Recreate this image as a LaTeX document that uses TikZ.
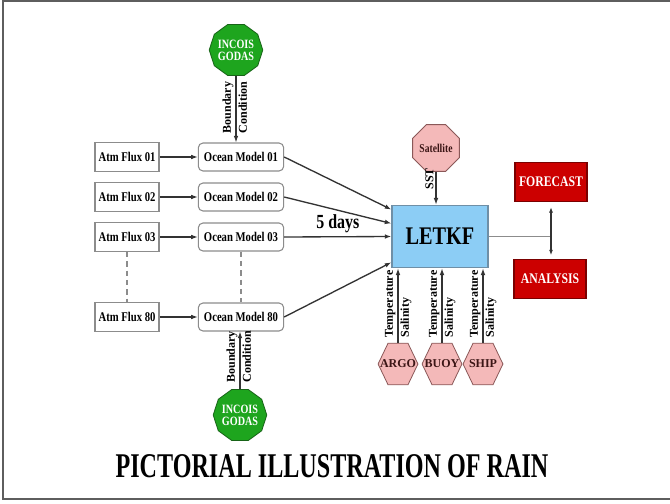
\documentclass[tikz,border=0pt]{standalone}
\usepackage{fontspec}
\setmainfont{Liberation Serif}[FakeStretch=0.8]
\newfontfamily\rotfont{Liberation Serif}
\usetikzlibrary{arrows.meta,shapes.geometric}
\definecolor{frameG}{HTML}{5E5E5E}
\definecolor{boxG}{HTML}{8C8C8C}
\definecolor{lineG}{HTML}{333333}
\definecolor{letkfB}{HTML}{8CCDF5}
\definecolor{letkfEdge}{HTML}{6F8FA6}
\definecolor{srcG}{HTML}{1EA51E}
\definecolor{srcGedge}{HTML}{176317}
\definecolor{obsP}{HTML}{F4B9B9}
\definecolor{obsPedge}{HTML}{8A5858}
\definecolor{obsText}{HTML}{3C1616}
\definecolor{outR}{HTML}{CC0000}
\definecolor{outRedge}{HTML}{7A0000}

\begin{document}
\begin{tikzpicture}[x=0.75pt, y=-0.75pt,
  flux/.style={draw=boxG, line width=0.8pt, fill=white, inner sep=1pt,
    minimum width=48pt, minimum height=21.5pt,
    font=\bfseries\fontsize{10}{11}\selectfont},
  model/.style={flux, rounded corners=3.5pt, minimum width=64pt, minimum height=21pt},
  godas/.style={regular polygon, regular polygon sides=10, minimum size=36pt,
    inner sep=0pt, fill=srcG, draw=srcGedge, line width=0.6pt, text=white,
    align=center, font=\bfseries\fontsize{9.5}{9}\selectfont},
  obs/.style={regular polygon, regular polygon sides=6, minimum size=36pt,
    inner sep=0pt, xscale=0.83, transform shape, fill=obsP, draw=obsPedge,
    line width=0.6pt},
  obslab/.style={text=obsText, font=\rotfont\bfseries\fontsize{9}{9}\selectfont},
  output/.style={draw=outRedge, fill=outR, line width=0.8pt, text=white,
    minimum width=54pt, minimum height=29pt, inner sep=1pt,
    font=\bfseries\fontsize{11}{12}\selectfont},
  arr/.style={-{Latex[length=5pt,width=3.5pt]}, draw=lineG, line width=0.8pt},
  bigarr/.style={arr, line width=1pt},
  sidelab/.style={rotate=90, inner sep=1.5pt, font=\rotfont\bfseries\fontsize{9}{9}\selectfont}]

  % page and frame
  \fill[white] (0,0) rectangle (670,503);
  \useasboundingbox (0,0) rectangle (670,503);
  \draw[frameG, line width=1.5pt] (670,1) -- (2.5,1) -- (2.5,499) -- (670,499);

  % ensemble rows: atmospheric forcing -> ocean model
  \foreach \n/\y in {01/157,02/197,03/237,80/317}{
    \node[flux] (flux\n) at (127,\y) {Atm Flux \n};
    \node[model] (model\n) at (241,\y) {Ocean Model \n};
    \draw[arr] (flux\n) -- (model\n);
  }
  \draw[boxG, line width=0.8pt, dash pattern=on 4pt off 3pt] (flux03) -- (flux80);
  \draw[boxG, line width=0.8pt, dash pattern=on 4pt off 3pt] (model03) -- (model80);

  % boundary condition sources
  \node[godas] (godasTop) at (236,50) {INCOIS\\GODAS};
  \node[godas] (godasBot) at (240,415) {INCOIS\\GODAS};
  \draw[arr] (godasTop.south) -- (godasTop.south |- model01.north)
    node[sidelab, pos=0.9, anchor=south west] {Boundary}
    node[sidelab, pos=0.9, anchor=north west] {Condition};
  \draw[arr] (godasBot.north) -- (godasBot.north |- model80.south)
    node[sidelab, pos=0.07, anchor=south west] {Boundary}
    node[sidelab, pos=0.07, anchor=north west] {Condition};

  % assimilation
  \node[draw=letkfEdge, fill=letkfB, line width=0.8pt, minimum width=72pt,
    minimum height=47pt, font=\bfseries\fontsize{19}{20}\selectfont]
    (letkf) at (440,236.5) {LETKF};
  \foreach \n/\a in {01/151,02/165,80/208}{
    \draw[bigarr] (model\n.east) -- (letkf.\a);
  }
  \draw[bigarr] (model03.east) -- (letkf.west)
    node[midway, above=-1pt, font=\bfseries\fontsize{15}{16}\selectfont] {5 days};

  % observations
  \node[regular polygon, regular polygon sides=8, minimum size=36pt, inner sep=0pt,
    fill=obsP, draw=obsPedge, line width=0.6pt, text=obsText,
    font=\bfseries\fontsize{9}{9}\selectfont] (sat) at (436,148) {Satellite};
  \draw[arr] (sat.south) -- (sat.south |- letkf.north)
    node[sidelab, pos=0.62, anchor=south west] {SST};
  \foreach \o/\x/\lab in {argo/398/ARGO,buoy/442/BUOY,ship/483/SHIP}{
    \node[obs, label={[obslab]center:\lab}] (\o) at (\x,364) {};
    \draw[arr] (\o.north) -- (\o.north |- letkf.south)
      node[sidelab, pos=0.04, anchor=south west] {Temperature}
      node[sidelab, pos=0.04, anchor=north west] {Salinity};
  }

  % products
  \node[output] (forecast) at (551,182) {FORECAST};
  \node[output] (analysis) at (550,279) {ANALYSIS};
  \coordinate (split) at (forecast.south |- letkf.east);
  \draw[boxG, line width=1.2pt] (letkf.east) -- (split);
  \draw[{Latex[length=4pt,width=3pt]}-{Latex[length=4pt,width=3pt]}, lineG, line width=0.8pt,
    shorten <=4pt, shorten >=3pt] (forecast.south) -- (forecast.south |- analysis.north);

  \node[font=\bfseries\fontsize{26}{27}\selectfont] (title) at (332,466)
    {\scalebox{0.87}[1]{PICTORIAL ILLUSTRATION OF RAIN}};
\end{tikzpicture}
\end{document}
